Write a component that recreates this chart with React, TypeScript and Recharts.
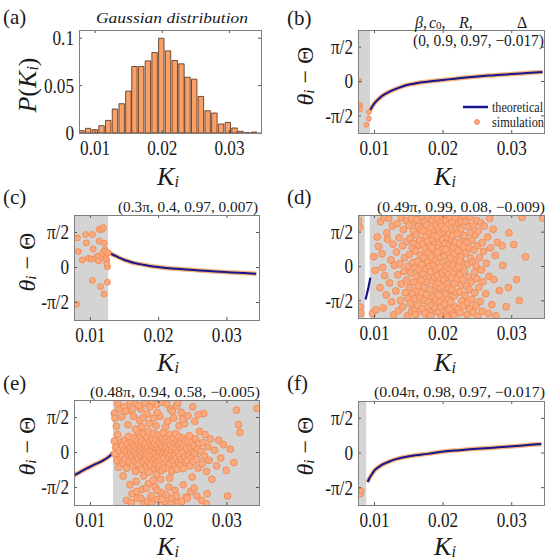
import React from "react";
import { ComposedChart, XAxis, YAxis, Bar, Line, Scatter, ReferenceArea } from "recharts";

const SERIF = '"Liberation Serif", "Times New Roman", serif';
const INK = "#1a1a1a";
const AXIS = "#555";
const FRAME = "#7f7f7f";
const GRAY = "#d4d4d4";
const NAVY = "#16168a";
const HALO = "#f6b27c";
const DOT_FILL = "#f9a97f";
const DOT_EDGE = "#f08a52";

const K_DOMAIN: [number, number] = [0.0076, 0.0347];
const K_TICKS = [0.01, 0.02, 0.03];
const PHASE_DOMAIN: [number, number] = [-2.356, 2.356];
const PHASE_TICKS = [-1.5708, 0, 1.5708];
const PROB_TICKS = [0, 0.05, 0.1];

// (a) histogram of K_i
const binCenter = [0.008, 0.009, 0.01, 0.011, 0.012, 0.013, 0.014, 0.015, 0.0159, 0.0169, 0.0179, 0.0189, 0.0199, 0.0209, 0.0219, 0.0229, 0.0238, 0.0248, 0.0258, 0.0268, 0.0278, 0.0288, 0.0298, 0.0308, 0.0317, 0.0327, 0.0337];
const binProb = [0.0025, 0.0049, 0.0035, 0.0077, 0.0133, 0.0253, 0.0309, 0.0442, 0.0702, 0.0702, 0.0761, 0.0849, 0.1, 0.0867, 0.0765, 0.073, 0.0589, 0.0568, 0.0386, 0.0235, 0.0211, 0.0095, 0.0112, 0.0053, 0.0018, 0.0003, 0.001];

// (b)
const bK = [0.00935, 0.0097, 0.0101, 0.0106, 0.0111, 0.0118, 0.0125, 0.0135, 0.0145, 0.0157, 0.0169, 0.0185, 0.02, 0.0217, 0.0233, 0.025, 0.0267, 0.0284, 0.03, 0.0322, 0.0345];
const bTheta = [-1.33, -1.13, -0.96, -0.8, -0.66, -0.53, -0.42, -0.29, -0.18, -0.1, -0.03, 0.02, 0.07, 0.13, 0.18, 0.23, 0.27, 0.31, 0.34, 0.39, 0.44];
const bOutK = [0.0078, 0.0079, 0.0079, 0.0079, 0.0092, 0.0092, 0.0088];
const bOutTheta = [0.04, -1.06, -1.18, -1.28, -1.4, -1.7, -1.99];
const bShade = [0.0076, 0.00935];

// (c)
const cK = [0.0126, 0.013, 0.0137, 0.0143, 0.0149, 0.0156, 0.0163, 0.0175, 0.0187, 0.0199, 0.0211, 0.0235, 0.0259, 0.0283, 0.0307, 0.0325, 0.0343];
const cTheta = [0.72, 0.62, 0.52, 0.43, 0.35, 0.28, 0.21, 0.14, 0.07, 0.02, -0.02, -0.08, -0.13, -0.18, -0.22, -0.25, -0.28];
const cOut = [
  [0.0081, 1.33], [0.0082, 0.72], [0.0088, 0.34], [0.0093, 1.48], [0.0094, 1.1], [0.0097, 0.41], [0.0101, 0.38],
  [0.0103, 1.48], [0.0104, 0.83], [0.0107, 0.41], [0.0111, 0.49], [0.0103, -0.58], [0.0113, 1.18], [0.0113, 1.71],
  [0.0115, 0.41], [0.0117, 1.71], [0.0119, 1.79], [0.012, 1.1], [0.0121, 0.79], [0.0123, 0.57], [0.0124, 0.34],
  [0.0125, 0.03], [0.0125, -0.66], [0.012, -1.19], [0.0115, -0.86], [0.008, -1.65], [0.011, 0.5], [0.0118, 0.64],
  [0.0122, 0.72], [0.0126, 0.66], [0.0124, 0.18], [0.0112, 0.3],
];
const cShade = [0.0076, 0.0126];

// (d)
const dK = [0.0087, 0.0091, 0.0094];
const dTheta = [-1.51, -1.0, -0.51];
const dShadeLeft = [0.0076, 0.0086];
const dShadeRight = [0.0093, 0.0347];
const dCloud = [
  [0.0078, 1.8], [0.0079, -1.85], [0.008, -2.15], [0.0077, 2.1],
  [0.0097, -2.15], [0.0101, -0.18], [0.0102, -1.98], [0.0106, 0.92], [0.0108, -0.97], [0.0109, 2.05], [0.0104, 1.35], [0.0099, 0.45],
  [0.0111, 0.58], [0.0113, -1.9], [0.0115, -0.42], [0.0118, 1.54], [0.0119, 1.25], [0.0117, -1.3], [0.0114, 2.25], [0.0112, -0.05],
  [0.0121, 2.2], [0.0122, -0.75], [0.0124, 0.3], [0.0125, -1.62], [0.0127, 1.02], [0.0128, -2.21], [0.0129, 0.05], [0.0126, 1.85],
  [0.0131, -1.12], [0.0132, 0.66], [0.0133, 1.95], [0.0134, -0.38], [0.0135, -2.02], [0.0136, 1.32], [0.0137, 0.12], [0.0138, -1.55], [0.0139, 2.25], [0.0139, -0.8],
  [0.0141, 0.95], [0.0141, -1.85], [0.0142, 1.68], [0.0143, -0.22], [0.0144, 0.4], [0.0145, -1.2], [0.0146, 2.1], [0.0147, -0.62], [0.0147, 1.15], [0.0148, -2.25], [0.0149, 0.02], [0.0149, -1.45],
  [0.015, 1.88], [0.0151, -0.95], [0.0151, 0.55], [0.0152, -1.7], [0.0152, 1.3], [0.0153, -0.3], [0.0154, 2.22], [0.0154, -2.05], [0.0155, 0.85], [0.0156, -1.25], [0.0156, 0.18], [0.0157, 1.62], [0.0157, -0.7], [0.0158, -1.95], [0.0158, 1.05], [0.0159, -0.05], [0.0159, 2.0], [0.0159, -1.48],
  [0.016, 0.7], [0.016, -2.2], [0.0161, 1.45], [0.0161, -0.45], [0.0162, -1.1], [0.0162, 2.15], [0.0163, 0.25], [0.0163, -1.78], [0.0164, 1.85], [0.0164, -0.88], [0.0165, 0.98], [0.0165, -0.15], [0.0166, -1.4], [0.0166, 1.2], [0.0167, -2.02], [0.0167, 0.52], [0.0168, 1.7], [0.0168, -0.62], [0.0169, -1.2], [0.0169, 2.28], [0.0169, 0.08], [0.017, -1.92],
  [0.017, 1.02], [0.0171, -0.32], [0.0171, 1.62], [0.0172, -1.55], [0.0172, 0.4], [0.0173, 2.05], [0.0173, -0.95], [0.0174, -2.15], [0.0174, 0.82], [0.0175, 1.38], [0.0175, -0.1], [0.0176, -1.28], [0.0176, 1.9], [0.0177, 0.2], [0.0177, -0.7], [0.0178, -1.85], [0.0178, 1.15], [0.0178, 0.62], [0.0179, -0.42], [0.0179, 2.25], [0.0179, -1.62], [0.018, 1.55], [0.018, -2.28], [0.018, 0.0],
  [0.0181, 0.92], [0.0181, -1.05], [0.0182, 1.75], [0.0182, -0.25], [0.0183, -1.78], [0.0183, 0.45], [0.0184, 2.12], [0.0184, -0.65], [0.0185, 1.25], [0.0185, -2.05], [0.0186, 0.1], [0.0186, -1.38], [0.0186, 1.55], [0.0187, -0.48], [0.0187, 2.3], [0.0188, 0.7], [0.0188, -1.9], [0.0188, 1.0], [0.0189, -0.85], [0.0189, 0.28], [0.0189, -1.55], [0.019, 1.92], [0.019, -0.12], [0.0184, 0.85], [0.0182, -2.25], [0.0187, 1.42],
  [0.0191, 0.55], [0.0191, -1.2], [0.0191, 1.38], [0.0192, -0.4], [0.0192, 2.18], [0.0193, -2.1], [0.0193, 0.9], [0.0193, -0.75], [0.0194, 1.7], [0.0194, 0.15], [0.0195, -1.62], [0.0195, 1.1], [0.0195, -0.05], [0.0196, -1.0], [0.0196, 2.0], [0.0196, 0.42], [0.0197, -1.85], [0.0197, 1.52], [0.0197, -0.55], [0.0198, 0.75], [0.0198, -2.28], [0.0198, 1.85], [0.0199, -0.28], [0.0199, -1.4], [0.0199, 1.22], [0.02, 0.2], [0.02, -0.9], [0.02, 2.25], [0.0194, -1.3], [0.0192, 0.65],
  [0.0201, 1.6], [0.0201, -0.62], [0.0202, -1.72], [0.0202, 0.48], [0.0203, 1.05], [0.0203, -0.18], [0.0204, 2.1], [0.0204, -1.25], [0.0205, 0.02], [0.0205, -2.05], [0.0206, 1.35], [0.0206, -0.8], [0.0207, 0.65], [0.0207, -1.5], [0.0207, 1.88], [0.0208, -0.35], [0.0208, 0.95], [0.0209, -1.95], [0.0209, 1.5], [0.0209, 0.12], [0.021, -1.1], [0.021, 2.28], [0.0204, 0.78], [0.0206, -2.3], [0.0203, 1.72], [0.0208, -0.98],
  [0.0211, 0.4], [0.0211, -1.62], [0.0212, 1.25], [0.0212, -0.5], [0.0213, 2.02], [0.0213, -1.05], [0.0214, 0.05], [0.0214, -2.15], [0.0215, 0.88], [0.0215, -0.25], [0.0216, 1.62], [0.0216, -1.35], [0.0217, 0.55], [0.0217, -0.78], [0.0218, 2.25], [0.0218, -1.85], [0.0218, 1.1], [0.0219, -0.1], [0.0219, 1.8], [0.022, -1.2], [0.022, 0.32], [0.0214, 1.42], [0.0216, -2.25],
  [0.0221, -0.55], [0.0221, 1.5], [0.0222, -1.95], [0.0222, 0.72], [0.0223, 0.0], [0.0223, 1.98], [0.0224, -1.15], [0.0224, 1.05], [0.0225, -0.35], [0.0225, -2.12], [0.0226, 0.45], [0.0226, 1.72], [0.0227, -0.85], [0.0227, -1.58], [0.0228, 1.28], [0.0228, 0.18], [0.0229, 2.22], [0.0229, -0.6], [0.023, -1.8], [0.023, 0.9], [0.0224, 0.25], [0.0227, 2.05],
  [0.0231, -0.2], [0.0231, 1.4], [0.0232, -1.32], [0.0233, 0.62], [0.0233, 2.05], [0.0234, -0.9], [0.0235, -2.2], [0.0235, 1.12], [0.0236, 0.1], [0.0236, -1.65], [0.0237, 1.82], [0.0237, -0.48], [0.0238, 0.85], [0.0238, -1.05], [0.0239, 2.28], [0.0239, -1.95], [0.024, 0.38], [0.024, 1.55],
  [0.0241, -0.7], [0.0242, 1.2], [0.0242, -1.5], [0.0243, 0.2], [0.0244, 1.9], [0.0244, -2.1], [0.0245, 0.75], [0.0246, -0.25], [0.0246, -1.2], [0.0247, 1.45], [0.0248, 0.05], [0.0248, -1.8], [0.0249, 2.1], [0.0249, -0.55], [0.025, 0.95], [0.025, -2.28],
  [0.0251, 1.62], [0.0252, -0.95], [0.0253, 0.4], [0.0254, -1.6], [0.0255, 2.0], [0.0256, -0.15], [0.0257, 1.1], [0.0257, -2.05], [0.0258, -0.7], [0.0259, 0.7], [0.026, 1.85],
  [0.0262, -1.25], [0.0263, 0.15], [0.0265, 1.35], [0.0266, -2.15], [0.0267, -0.45], [0.0268, 2.2], [0.0269, 0.85],
  [0.0271, -1.75], [0.0273, 1.7], [0.0274, -0.6], [0.0276, 0.5], [0.0277, -2.25], [0.0279, 1.1],
  [0.0282, -1.1], [0.0286, 0.95], [0.0287, 0.05], [0.0292, -1.84], [0.0295, -0.96], [0.0296, 1.54],
  [0.0303, 1.0], [0.0307, -0.6], [0.0311, -1.56], [0.0315, 2.25], [0.032, 0.44], [0.0345, 2.22],
];

// (e)
const eK = [0.0076, 0.0082, 0.0088, 0.0095, 0.0102, 0.0108, 0.0114, 0.012, 0.0126, 0.013, 0.0133];
const eTheta = [-1.03, -0.93, -0.82, -0.71, -0.6, -0.51, -0.43, -0.33, -0.21, -0.11, 0.0];
const eShade = [0.0133, 0.0347];
const eCore = [
  [0.0135, 1.76], [0.0136, 1.54], [0.0138, 1.17], [0.0135, 0.51], [0.0137, 0.22], [0.0136, -0.07], [0.0139, -0.37], [0.0141, -0.66], [0.014, 0.8], [0.0143, 0.1], [0.0144, -0.25], [0.0142, 1.95], [0.0145, 0.45],
  [0.0146, -0.15], [0.0147, 0.3], [0.0148, -0.48], [0.0149, 0.12], [0.015, 0.55], [0.0151, -0.3], [0.0152, 0.05], [0.0153, -0.7], [0.0154, 0.38], [0.0155, -0.1], [0.0156, 0.72], [0.0157, -0.42], [0.0158, 0.2], [0.0159, -0.05], [0.0155, 1.25], [0.015, 2.05], [0.0158, -1.45], [0.0148, -1.05], [0.0157, 1.9], [0.0153, -2.15],
  [0.016, 0.45], [0.0161, -0.2], [0.0162, 0.1], [0.0162, -0.6], [0.0163, 0.32], [0.0164, -0.35], [0.0164, 0.65], [0.0165, 0.0], [0.0166, -0.85], [0.0166, 0.25], [0.0167, -0.12], [0.0168, 0.52], [0.0168, -0.45], [0.0169, 0.15], [0.0169, 0.92], [0.0163, 1.62], [0.0165, 2.2], [0.0167, -1.3], [0.0161, -1.85], [0.0169, -2.05], [0.0166, 1.05],
  [0.017, -0.25], [0.0171, 0.38], [0.0171, -0.55], [0.0172, 0.08], [0.0173, 0.7], [0.0173, -0.15], [0.0174, 0.28], [0.0175, -0.75], [0.0175, 0.5], [0.0176, -0.05], [0.0177, 0.18], [0.0177, -0.38], [0.0178, 0.85], [0.0178, -1.05], [0.0179, 0.35], [0.0179, -0.2], [0.018, 0.05], [0.0172, 1.45], [0.0174, 1.95], [0.0176, -1.65], [0.0178, -2.25], [0.018, 2.22], [0.0175, 1.15],
  [0.0181, 0.42], [0.0181, -0.3], [0.0182, 0.12], [0.0182, -0.62], [0.0183, 0.68], [0.0183, -0.08], [0.0184, 0.25], [0.0185, -0.45], [0.0185, 0.95], [0.0186, 0.02], [0.0186, -0.88], [0.0187, 0.48], [0.0187, -0.18], [0.0188, 0.3], [0.0188, -0.55], [0.0189, 0.15], [0.0189, 0.72], [0.019, -0.3], [0.0183, 1.72], [0.0185, -1.4], [0.0187, 2.05], [0.0189, -1.95], [0.0184, -2.2], [0.0186, 1.3],
  [0.0191, 0.05], [0.0191, 0.58], [0.0192, -0.4], [0.0192, 0.28], [0.0193, -0.12], [0.0193, 0.85], [0.0194, -0.7], [0.0194, 0.4], [0.0195, 0.0], [0.0195, -0.28], [0.0196, 0.62], [0.0196, -0.52], [0.0197, 0.18], [0.0197, -1.0], [0.0198, 0.35], [0.0198, -0.15], [0.0199, 0.78], [0.0199, -0.4], [0.02, 0.1], [0.02, -0.65], [0.0193, 1.55], [0.0195, -1.55], [0.0197, 2.15], [0.0199, -2.1], [0.0196, 1.2], [0.0192, -1.25],
  [0.0201, 0.45], [0.0201, -0.22], [0.0202, 0.12], [0.0202, -0.55], [0.0203, 0.7], [0.0203, 0.0], [0.0204, -0.35], [0.0204, 0.35], [0.0205, -0.8], [0.0205, 0.58], [0.0206, -0.1], [0.0206, 0.22], [0.0207, -0.48], [0.0207, 0.9], [0.0208, 0.05], [0.0208, -0.25], [0.0209, 0.5], [0.0209, -0.7], [0.021, 0.18], [0.0202, 1.62], [0.0204, -1.8], [0.0206, 2.25], [0.0208, -2.2], [0.021, 1.15], [0.0203, -1.2],
  [0.0211, -0.05], [0.0211, 0.62], [0.0212, -0.42], [0.0212, 0.3], [0.0213, 0.0], [0.0214, -0.68], [0.0214, 0.48], [0.0215, -0.2], [0.0215, 0.15], [0.0216, 0.8], [0.0216, -0.5], [0.0217, 0.35], [0.0218, -0.12], [0.0218, 0.58], [0.0219, -0.85], [0.0219, 0.1], [0.022, -0.3], [0.0213, 1.4], [0.0215, -1.55], [0.0217, 1.95], [0.0219, -2.05], [0.0216, -1.15],
  [0.0221, 0.25], [0.0221, -0.35], [0.0222, 0.65], [0.0223, -0.1], [0.0223, 0.4], [0.0224, -0.6], [0.0225, 0.12], [0.0225, 0.85], [0.0226, -0.28], [0.0227, 0.5], [0.0227, -0.75], [0.0228, 0.02], [0.0229, 0.35], [0.0229, -0.45], [0.023, 0.7], [0.0222, 1.55], [0.0224, -1.7], [0.0226, 2.1], [0.0228, -2.25], [0.023, 1.2],
  [0.0231, -0.15], [0.0232, 0.42], [0.0232, -0.55], [0.0233, 0.15], [0.0234, -0.3], [0.0235, 0.65], [0.0235, 0.0], [0.0236, -0.72], [0.0237, 0.3], [0.0238, -0.2], [0.0239, 0.55], [0.024, -0.45], [0.0233, 1.8], [0.0236, -1.45], [0.0238, 1.3], [0.024, -2.0],
  [0.0241, 0.18], [0.0242, -0.35], [0.0243, 0.5], [0.0244, -0.1], [0.0245, 0.75], [0.0246, -0.6], [0.0247, 0.25], [0.0248, -0.25], [0.0249, 0.45], [0.025, 0.02], [0.0243, 1.65], [0.0247, -1.75], [0.0249, -1.1],
  [0.0251, -0.4], [0.0252, 0.3], [0.0253, -0.05], [0.0254, 0.62], [0.0256, -0.3], [0.0257, 0.15], [0.0258, -0.7], [0.0259, 0.4], [0.0253, 1.4], [0.0256, -1.95], [0.026, 0.95],
  [0.0262, 0.05], [0.0264, -0.5], [0.0265, 0.45], [0.0267, -0.15], [0.0268, 0.8], [0.027, -0.85], [0.0272, 0.25], [0.0274, -0.35], [0.0276, 0.6], [0.0278, -1.2], [0.0266, 1.75], [0.0271, -1.85],
  [0.0282, 0.1], [0.0285, -0.6], [0.0288, 0.55], [0.0291, -0.25], [0.0295, 0.35], [0.0299, -0.8], [0.0301, -1.95], [0.0305, 0.15], [0.0314, 1.9], [0.0317, 1.25], [0.0319, 0.9], [0.0344, 1.98], [0.031, -0.45],
];
const eTop = [[0.014, 2.2], [0.0146, 1.6], [0.0152, 1.85], [0.0158, 2.28], [0.0162, 1.95], [0.0171, 2.1], [0.0177, 1.55], [0.019, 2.3], [0.0198, 1.8], [0.0212, 2.18], [0.022, 1.85], [0.0228, 2.25], [0.0235, 1.5], [0.025, 2.05], [0.0258, 1.7]];
const eBottom = [[0.016, -2.25], [0.0168, -1.75], [0.0174, -2.05], [0.0182, -1.6], [0.019, -2.28], [0.0198, -1.7], [0.0205, -2.1], [0.0211, -1.9], [0.0218, -2.3], [0.0226, -1.95], [0.0234, -2.2], [0.0242, -2.05], [0.0252, -1.6], [0.0263, -2.15], [0.027, -2.3]];

// (f)
const fK = [0.009, 0.0093, 0.0097, 0.01, 0.0106, 0.0112, 0.0119, 0.013, 0.0143, 0.016, 0.0177, 0.0201, 0.0225, 0.0249, 0.0273, 0.0297, 0.032, 0.0343];
const fTheta = [-1.32, -1.12, -0.93, -0.79, -0.64, -0.52, -0.42, -0.29, -0.19, -0.1, -0.04, 0.07, 0.13, 0.19, 0.24, 0.29, 0.35, 0.41];
const fOutK = [0.0079, 0.008, 0.0081];
const fOutTheta = [-1.77, -1.86, -1.7];
const fShade = [0.0076, 0.0088];

const toRows = (k: number[], v: number[]) => k.map((x, i) => ({ k: x, v: v[i] }));
const pairRows = (pts: number[][]) => pts.map(([k, v]) => ({ k, v }));

const ML = 60;
const MT = 4;
const MR = 6;
const MB = 40;

type Box = { x: number; y: number; w: number; h: number };

const BOX_A: Box = { x: 79, y: 30, w: 182, h: 103 };
const BOX_B: Box = { x: 358, y: 30, w: 186, h: 103 };
const BOX_C: Box = { x: 74, y: 215, w: 185, h: 105 };
const BOX_D: Box = { x: 358, y: 215, w: 186, h: 103 };
const BOX_E: Box = { x: 74, y: 400, w: 185, h: 105 };
const BOX_F: Box = { x: 358, y: 401, w: 186, h: 104 };

const phaseFmt = (v: number) => (v > 0.1 ? "π/2" : v < -0.1 ? "-π/2" : "0");
const probFmt = (v: number) => String(v);

// tick labels in the figure are tall and a bit condensed
const TICK_FONT = 20;
const TICK_SQUEEZE = 0.86;

function Panel({ box, yDomain, yTicks, yFmt, data, children }: any) {
  const { x, y, w, h } = box as Box;
  const XTick = (p: any) => (
    <g>
      <line x1={p.x} x2={p.x} y1={MT + h} y2={MT + h - 3} stroke={AXIS} />
      <line x1={p.x} x2={p.x} y1={MT} y2={MT + 3} stroke={AXIS} />
      <text transform={`translate(${p.x},${MT + h + 15}) scale(${TICK_SQUEEZE},1)`} textAnchor="middle" dominantBaseline="central" fontSize={TICK_FONT} fontFamily={SERIF} fill={INK}>
        {Number(p.payload.value).toFixed(2)}
      </text>
    </g>
  );
  const YTick = (p: any) => (
    <g>
      <line x1={ML} x2={ML + 3} y1={p.y} y2={p.y} stroke={AXIS} />
      <line x1={ML + w} x2={ML + w - 3} y1={p.y} y2={p.y} stroke={AXIS} />
      <text transform={`translate(${ML - 5},${p.y}) scale(${TICK_SQUEEZE},1)`} textAnchor="end" dominantBaseline="central" fontSize={TICK_FONT} fontFamily={SERIF} fill={INK}>
        {yFmt(p.payload.value)}
      </text>
    </g>
  );
  return (
    <div style={{ position: "absolute", left: x - ML, top: y - MT }}>
      <ComposedChart width={ML + w + MR} height={MT + h + MB} data={data} margin={{ top: MT, right: MR, bottom: 0, left: 0 }}>
        <XAxis dataKey="k" type="number" domain={K_DOMAIN} ticks={K_TICKS} interval={0} allowDataOverflow axisLine={false} tickLine={false} tickSize={0} tick={XTick} height={MB} />
        <YAxis dataKey="v" type="number" domain={yDomain} ticks={yTicks} interval={0} allowDataOverflow axisLine={false} tickLine={false} tickSize={0} tick={YTick} width={ML} />
        {children}
      </ComposedChart>
    </div>
  );
}

const dot = (r: number) => (p: any) => <circle cx={p.cx} cy={p.cy} r={r} fill={DOT_FILL} stroke={DOT_EDGE} strokeWidth={0.9} />;

const shade = (range: number[]) => (
  <ReferenceArea x1={range[0]} x2={range[1]} fill={GRAY} fillOpacity={1} stroke="none" ifOverflow="hidden" />
);

const curve = (rows: any[]) => [
  <Line key="halo" data={rows} dataKey="v" type="monotone" stroke={HALO} strokeWidth={4.5} dot={false} isAnimationActive={false} />,
  <Line key="theory" data={rows} dataKey="v" type="monotone" stroke={NAVY} strokeWidth={2} dot={false} isAnimationActive={false} />,
];

function Theta({ x, y }: { x: number; y: number }) {
  return (
    <text transform={`translate(${x},${y}) rotate(-90)`} textAnchor="middle" dominantBaseline="central" fontSize={24} fill={INK}>
      <tspan fontStyle="italic">θ</tspan>
      <tspan fontStyle="italic" fontSize={15} dy={4}>i</tspan>
      <tspan dy={-4}> − Θ</tspan>
    </text>
  );
}

function KLabel({ x, y }: { x: number; y: number }) {
  return (
    <text x={x} y={y} textAnchor="middle" dominantBaseline="central" fontSize={26} fontStyle="italic" fill={INK}>
      K<tspan fontSize={16} dy={5}>i</tspan>
    </text>
  );
}

function Overlay() {
  const boxes = [BOX_A, BOX_B, BOX_C, BOX_D, BOX_E, BOX_F];
  const note = { fontSize: 15, fill: INK, dominantBaseline: "central" as const, lengthAdjust: "spacingAndGlyphs" as const };
  return (
    <svg width={554} height={560} style={{ position: "absolute", left: 0, top: 0, pointerEvents: "none" }} fontFamily={SERIF}>
      {boxes.map((b, i) => (
        <rect key={i} x={b.x + 0.5} y={b.y + 0.5} width={b.w} height={b.h} fill="none" stroke={FRAME} strokeWidth={1} />
      ))}
      {[["(a)", 3, 17], ["(b)", 287, 18], ["(c)", 3, 197], ["(d)", 287, 197], ["(e)", 3, 383], ["(f)", 287, 383]].map(([t, x, y]) => (
        <text key={t as string} x={x as number} y={y as number} fontSize={21} fill={INK} dominantBaseline="central">{t}</text>
      ))}
      <text x={172} y={18} textAnchor="middle" fontSize={15} fontStyle="italic" fill={INK} dominantBaseline="central" textLength={152} lengthAdjust="spacingAndGlyphs">
        Gaussian distribution
      </text>
      <text transform="translate(27,85) rotate(-90)" textAnchor="middle" dominantBaseline="central" fontSize={26} fill={INK}>
        <tspan fontStyle="italic">P</tspan>(<tspan fontStyle="italic">K</tspan>
        <tspan fontStyle="italic" fontSize={16} dy={5}>i</tspan>
        <tspan dy={-5}>)</tspan>
      </text>
      <Theta x={305} y={76} />
      <Theta x={27} y={262} />
      <Theta x={27} y={446} />
      <Theta x={305} y={446} />
      <KLabel x={168} y={176} />
      <KLabel x={445} y={176} />
      <KLabel x={168} y={362} />
      <KLabel x={445} y={362} />
      <KLabel x={168} y={546} />
      <KLabel x={445} y={546} />

      <text x={415} y={22} fontSize={16} fill={INK} dominantBaseline="central"><tspan fontStyle="italic">β</tspan>,</text>
      <text x={429} y={22} fontSize={16} fill={INK} dominantBaseline="central"><tspan fontStyle="italic">c</tspan><tspan fontSize={11} dy={3}>0</tspan><tspan dy={-3}>,</tspan></text>
      <text x={459} y={22} fontSize={16} fill={INK} dominantBaseline="central"><tspan fontStyle="italic">R</tspan>,</text>
      <text x={517} y={22} fontSize={16} fill={INK} dominantBaseline="central">Δ</text>
      <text x={413} y={40} {...note} fontSize={16} textLength={131}>(0, 0.9, 0.97, −0.017)</text>
      <text x={118} y={207} {...note} textLength={140}>(0.3π, 0.4, 0.97, 0.007)</text>
      <text x={377} y={207} {...note} textLength={168}>(0.49π, 0.99, 0.08, −0.009)</text>
      <text x={90} y={392} {...note} textLength={170}>(0.48π, 0.94, 0.58, −0.005)</text>
      <text x={374} y={392} {...note} textLength={171}>(0.04π, 0.98, 0.97, −0.017)</text>

      <line x1={463} x2={488} y1={107} y2={107} stroke={NAVY} strokeWidth={2.5} />
      <text x={492} y={107} fontSize={14} fill={INK} dominantBaseline="central" textLength={51} lengthAdjust="spacingAndGlyphs">theoretical</text>
      <circle cx={477} cy={122} r={2.5} fill={DOT_FILL} stroke={DOT_EDGE} strokeWidth={0.9} />
      <text x={492} y={122} fontSize={14} fill={INK} dominantBaseline="central" textLength={52} lengthAdjust="spacingAndGlyphs">simulation</text>
    </svg>
  );
}

export default function App() {
  const hist = toRows(binCenter, binProb);
  const phase = { yDomain: PHASE_DOMAIN, yTicks: PHASE_TICKS, yFmt: phaseFmt };
  return (
    <div style={{ position: "absolute", left: 0, top: 0, width: 554, height: 560, background: "#fff", fontFamily: SERIF }}>
      <Panel box={BOX_A} yDomain={[0, 0.1087]} yTicks={PROB_TICKS} yFmt={probFmt} data={hist}>
        <Bar dataKey="v" barSize={6.7} fill="#f9a066" stroke="#4d2c1c" strokeWidth={0.8} isAnimationActive={false} />
      </Panel>

      <Panel box={BOX_B} {...phase}>
        {shade(bShade)}
        {curve(toRows(bK, bTheta))}
        <Scatter data={toRows(bOutK, bOutTheta)} dataKey="v" shape={dot(2.4)} isAnimationActive={false} />
      </Panel>

      <Panel box={BOX_C} {...phase}>
        {shade(cShade)}
        {curve(toRows(cK, cTheta))}
        <Scatter data={pairRows(cOut)} dataKey="v" shape={dot(3)} isAnimationActive={false} />
      </Panel>

      <Panel box={BOX_D} {...phase}>
        {shade(dShadeLeft)}
        {shade(dShadeRight)}
        <Scatter data={pairRows(dCloud)} dataKey="v" shape={dot(3.4)} isAnimationActive={false} />
        <Line data={toRows(dK, dTheta)} dataKey="v" stroke={NAVY} strokeWidth={2.2} dot={false} isAnimationActive={false} />
      </Panel>

      <Panel box={BOX_E} {...phase}>
        {shade(eShade)}
        {curve(toRows(eK, eTheta))}
        <Scatter data={pairRows([...eCore, ...eTop, ...eBottom])} dataKey="v" shape={dot(3.4)} isAnimationActive={false} />
      </Panel>

      <Panel box={BOX_F} {...phase}>
        {shade(fShade)}
        {curve(toRows(fK, fTheta))}
        <Scatter data={toRows(fOutK, fOutTheta)} dataKey="v" shape={dot(2.8)} isAnimationActive={false} />
      </Panel>

      <Overlay />
    </div>
  );
}
